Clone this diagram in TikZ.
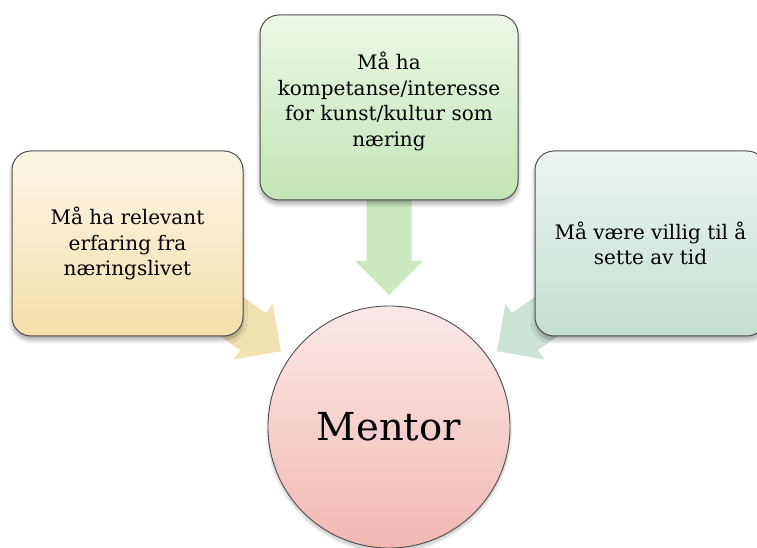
\documentclass[tikz,border=0pt]{standalone}
\usepackage{fontspec}
\setmainfont{DejaVu Serif}
\usetikzlibrary{calc,shadows.blur,backgrounds}

\definecolor{edgegray}{RGB}{80,80,80}
\definecolor{creamtop}{RGB}{252,246,230}
\definecolor{creambot}{RGB}{244,223,170}
\definecolor{creamarrow}{RGB}{242,226,178}
\definecolor{greentop}{RGB}{236,247,231}
\definecolor{greenbot}{RGB}{194,229,180}
\definecolor{greenarrow}{RGB}{204,234,192}
\definecolor{sagetop}{RGB}{236,244,240}
\definecolor{sagebot}{RGB}{196,222,209}
\definecolor{sagearrow}{RGB}{203,226,213}
\definecolor{rosetop}{RGB}{251,232,232}
\definecolor{rosebot}{RGB}{242,184,178}

\begin{document}
\begin{tikzpicture}[x=1pt,y=1pt,
  infobox/.style={draw=edgegray, line width=1pt, rounded corners=19pt,
    minimum height=185pt, inner sep=0pt, align=center,
    font=\fontsize{20}{25.5}\selectfont,
    blur shadow={shadow xshift=0pt, shadow yshift=-4pt,
      shadow opacity=35, shadow blur radius=4pt, shadow blur steps=12}},
  hub/.style={circle, draw=edgegray, line width=0.9pt, inner sep=0pt,
    minimum size=242pt, top color=rosetop, bottom color=rosebot,
    font=\fontsize{38.5}{46}\selectfont,
    blur shadow={shadow xshift=0pt, shadow yshift=-3pt,
      shadow opacity=25, shadow blur radius=3pt, shadow blur steps=10}},
  blockarrow/.style={draw=none}
]
\useasboundingbox (0,0) rectangle (757,548);
\clip (0,0) rectangle (757,548);

% requirement boxes and the central circle
\node[infobox, minimum width=231pt, top color=creamtop, bottom color=creambot]
  (exp) at (127.5,304.5) {Må ha relevant\\erfaring fra\\næringslivet};
\node[infobox, minimum width=258pt, top color=greentop, bottom color=greenbot]
  (skill) at (389,440.5) {Må ha\\kompetanse/interesse\\for kunst/kultur som\\næring\\[-9pt]\mbox{}};
\node[infobox, minimum width=231pt, top color=sagetop, bottom color=sagebot]
  (time) at (650.5,304.5) {Må være villig til å\\sette av tid};
\node[hub] (mentor) at (389,121) {Mentor};

% block arrows pointing at the circle, tucked behind the boxes
\begin{scope}[on background layer]
  \coordinate (tipE) at ($(mentor.center)!132pt!(exp.center)$);
  \coordinate (tipS) at ($(mentor.center)!132pt!(skill.center)$);
  \coordinate (tipT) at ($(mentor.center)!132pt!(time.center)$);
  \fill[blockarrow, creamarrow, shift={(tipE)}, rotate=-35.06]
    (0,0) -- (-34,34) -- (-34,22.5) -- (-140,22.5) -- (-140,-22.5)
    -- (-34,-22.5) -- (-34,-34) -- cycle;
  \fill[blockarrow, greenarrow, shift={(tipS)}, rotate=-90]
    (0,0) -- (-34,34) -- (-34,22.5) -- (-140,22.5) -- (-140,-22.5)
    -- (-34,-22.5) -- (-34,-34) -- cycle;
  \fill[blockarrow, sagearrow, shift={(tipT)}, rotate=-144.94]
    (0,0) -- (-34,34) -- (-34,22.5) -- (-140,22.5) -- (-140,-22.5)
    -- (-34,-22.5) -- (-34,-34) -- cycle;
\end{scope}
\end{tikzpicture}
\end{document}
